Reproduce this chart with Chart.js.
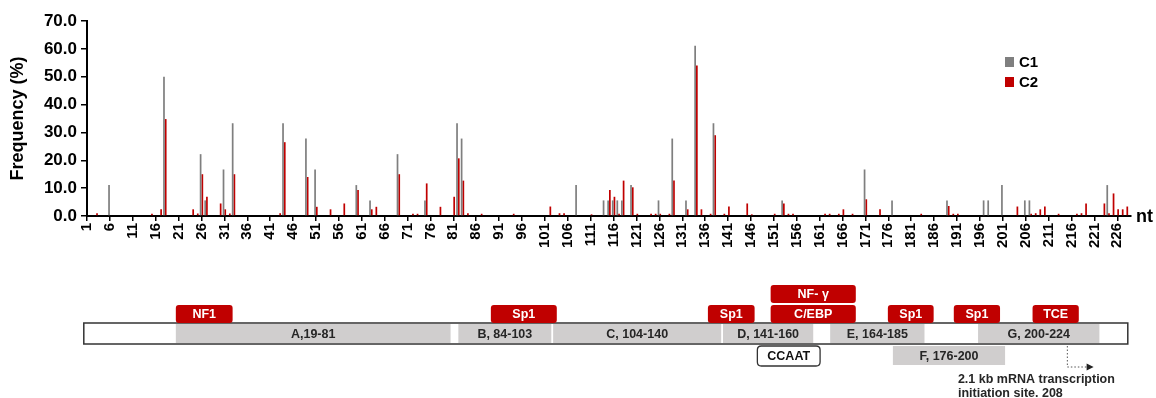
<!DOCTYPE html>
<html lang="en">
<head>
<meta charset="UTF-8">
<title>Frequency by nt</title>
<script src="https://cdn.jsdelivr.net/npm/chart.js"></script>
<style>
  html, body { margin: 0; padding: 0; background: #fff; }
  #wrap { width: 1156px; height: 398px; }
</style>
</head>
<body>
<div id="wrap"><canvas id="freqChart" width="1156" height="398"></canvas></div>
<script>
// nt range on the x axis
const ntFirst = 1;
const ntLast = 229;
const labelEvery = 5;

// C1 (grey) - positions and frequency (%)
const c1Sites = [6, 18, 26, 27, 31, 33, 44, 49, 51, 60, 63, 69, 75, 82, 83, 108, 114, 115, 116, 117, 118, 120,
  126, 129, 132, 134, 138, 153, 171, 177, 189, 197, 198, 201, 206, 207, 224];
const c1Freq = [11.1, 50.0, 22.2, 5.6, 16.7, 33.3, 33.3, 27.8, 16.7, 11.1, 5.6, 22.2, 5.6, 33.3, 27.8, 11.1, 5.6, 5.6, 5.6, 5.6, 5.6, 11.1,
  5.6, 27.8, 5.6, 61.1, 33.3, 5.6, 16.7, 5.6, 5.6, 5.6, 5.6, 11.1, 5.6, 5.6, 11.1];

// C2 (red) - positions and frequency (%)
const c2Sites = [3, 15, 17, 18, 24, 25, 26, 27, 30, 31, 32, 33, 43, 44, 49, 51, 54, 57, 60, 63, 64, 69, 72, 73, 75, 78,
  81, 82, 83, 84, 87, 94, 102, 104, 105, 111, 115, 116, 117, 118, 120, 121, 124, 125, 126, 128, 129, 132, 134, 135,
  137, 138, 140, 141, 145, 146, 151, 153, 154, 155, 162, 163, 165, 166, 168, 171, 174, 183, 189, 190, 191, 204, 207,
  208, 209, 210, 213, 217, 218, 219, 223, 224, 225, 226, 227, 228];
const c2Freq = [1.0, 0.8, 2.4, 34.8, 2.4, 0.9, 15.0, 6.9, 4.5, 2.4, 0.9, 15.0, 1.0, 26.5, 14.0, 3.3, 2.4, 4.5, 9.3, 2.4, 3.3, 15.0, 0.8, 0.8, 11.7, 3.3,
  6.9, 20.7, 12.7, 1.0, 0.8, 0.8, 3.4, 1.0, 1.0, 0.6, 9.3, 6.9, 0.8, 12.7, 10.3, 0.8, 0.8, 0.8, 0.8, 0.8, 12.7, 2.4, 54.0, 2.4,
  0.8, 29.0, 0.8, 3.4, 4.5, 0.6, 0.8, 4.5, 0.8, 0.8, 0.8, 0.8, 0.8, 2.4, 0.8, 6.0, 2.4, 0.8, 3.6, 0.8, 0.8, 3.4, 0.8,
  1.0, 2.4, 3.4, 0.8, 0.8, 1.0, 4.5, 4.5, 1.0, 8.1, 2.4, 2.4, 3.4];

const seriesNames = ['C1', 'C2'];
const seriesColors = ['#7f7f7f', '#c00000'];

// promoter map under the chart
const regionNames = ['A,19-81', 'B, 84-103', 'C, 104-140', 'D, 141-160', 'E, 164-185', 'G, 200-224', 'F, 176-200'];
const factorNames = ['NF1', 'Sp1', 'Sp1', 'C/EBP', 'NF- \u03b3', 'Sp1', 'Sp1', 'TCE'];
const tssText = ['2.1 kb mRNA transcription', 'initiation site. 208'];

const FONT = "'Liberation Sans', Arial, sans-serif";

const categories = [];
for (let n = ntFirst; n <= ntLast; n++) categories.push(String(n));
const valuesC1 = categories.map(() => null);
const valuesC2 = categories.map(() => null);
c1Sites.forEach((n, i) => { valuesC1[n - ntFirst] = c1Freq[i]; });
c2Sites.forEach((n, i) => { valuesC2[n - ntFirst] = c2Freq[i]; });

// layout of the map, in nt units: [from, to, row]
const mapLayout = {
  frame: [0.3, 228.3],
  regions: [[20.4, 80.4, 0], [82.1, 102.4, 0], [102.8, 139.5, 0], [139.9, 159.6, 0], [163.3, 183.9, 0], [195.6, 222.1, 0], [177.0, 201.5, 1]],
  factors: [[20.4, 32.8, 0], [89.2, 103.6, 0], [136.6, 146.8, 0], [150.3, 168.9, 0], [150.3, 168.9, 1], [175.9, 185.9, 0], [190.3, 200.4, 0], [207.5, 217.6, 0]],
  ccaat: [147.4, 161.1],
  tss: [215.1, 220.4],
  tssTextAt: 191.2
};

function roundRect(ctx, x, y, w, h, r) {
  ctx.beginPath();
  ctx.moveTo(x + r, y);
  ctx.lineTo(x + w - r, y);
  ctx.quadraticCurveTo(x + w, y, x + w, y + r);
  ctx.lineTo(x + w, y + h - r);
  ctx.quadraticCurveTo(x + w, y + h, x + w - r, y + h);
  ctx.lineTo(x + r, y + h);
  ctx.quadraticCurveTo(x, y + h, x, y + h - r);
  ctx.lineTo(x, y + r);
  ctx.quadraticCurveTo(x, y, x + r, y);
  ctx.closePath();
}

const extrasPlugin = {
  id: 'extras',
  afterDraw(chart) {
    const ctx = chart.ctx;
    const xs = chart.scales.x;
    const area = chart.chartArea;
    const px = nt => xs.getPixelForValue(nt - ntFirst);
    ctx.save();

    // legend
    ctx.font = 'bold 15px ' + FONT;
    ctx.textBaseline = 'middle';
    ctx.textAlign = 'left';
    seriesNames.forEach((name, i) => {
      const y = 62 + i * 20;
      ctx.fillStyle = seriesColors[i];
      ctx.fillRect(1005, y - 5, 9, 10);
      ctx.fillStyle = '#000';
      ctx.fillText(name, 1019, y + 1);
    });

    // "nt" axis label
    ctx.font = 'bold 18px ' + FONT;
    ctx.fillStyle = '#000';
    ctx.fillText('nt', area.right + 5, area.bottom + 1);

    // promoter map
    const boxTop = 323, boxH = 21;
    ctx.fillStyle = '#fff';
    ctx.strokeStyle = '#333';
    ctx.lineWidth = 1.5;
    const fx0 = px(mapLayout.frame[0]), fx1 = px(mapLayout.frame[1]);
    ctx.fillRect(fx0, boxTop, fx1 - fx0, boxH);
    ctx.strokeRect(fx0, boxTop, fx1 - fx0, boxH);

    ctx.font = 'bold 12.5px ' + FONT;
    ctx.textAlign = 'center';
    mapLayout.regions.forEach(([a, b, row], i) => {
      const x0 = px(a), x1 = px(b);
      const y0 = row === 0 ? boxTop + 1 : 346;
      const h = row === 0 ? boxH - 2 : 19;
      ctx.fillStyle = '#d0cece';
      ctx.fillRect(x0, y0, x1 - x0, h);
      ctx.fillStyle = '#262626';
      ctx.fillText(regionNames[i], (x0 + x1) / 2, y0 + h / 2 + 1);
    });

    mapLayout.factors.forEach(([a, b, row], i) => {
      const x0 = px(a), x1 = px(b);
      const y0 = row === 0 ? 305 : 285;
      roundRect(ctx, x0, y0, x1 - x0, 18, 3);
      ctx.fillStyle = '#c00000';
      ctx.fill();
      ctx.fillStyle = '#fff';
      ctx.fillText(factorNames[i], (x0 + x1) / 2, y0 + 10);
    });

    // CCAAT box
    const cx0 = px(mapLayout.ccaat[0]), cx1 = px(mapLayout.ccaat[1]);
    roundRect(ctx, cx0, 346, cx1 - cx0, 20, 4);
    ctx.fillStyle = '#fff';
    ctx.fill();
    ctx.lineWidth = 1.3;
    ctx.strokeStyle = '#333';
    ctx.stroke();
    ctx.fillStyle = '#111';
    ctx.fillText('CCAAT', (cx0 + cx1) / 2, 357);

    // transcription start arrow
    const ax = px(mapLayout.tss[0]), ax1 = px(mapLayout.tss[1]);
    const ay = 367;
    ctx.setLineDash([1.5, 2]);
    ctx.lineWidth = 1;
    ctx.strokeStyle = '#555';
    ctx.beginPath();
    ctx.moveTo(ax, 346);
    ctx.lineTo(ax, ay);
    ctx.lineTo(ax1 - 4, ay);
    ctx.stroke();
    ctx.setLineDash([]);
    ctx.fillStyle = '#222';
    ctx.beginPath();
    ctx.moveTo(ax1 + 2, ay);
    ctx.lineTo(ax1 - 5, ay - 3.5);
    ctx.lineTo(ax1 - 5, ay + 3.5);
    ctx.closePath();
    ctx.fill();

    ctx.textAlign = 'left';
    ctx.fillStyle = '#262626';
    const tx = px(mapLayout.tssTextAt);
    ctx.fillText(tssText[0], tx, 380);
    ctx.fillText(tssText[1], tx, 394);

    ctx.restore();
  }
};

new Chart(document.getElementById('freqChart'), {
  type: 'bar',
  data: {
    labels: categories,
    datasets: [
      { label: seriesNames[0], data: valuesC1, backgroundColor: seriesColors[0], borderWidth: 0 },
      { label: seriesNames[1], data: valuesC2, backgroundColor: seriesColors[1], borderWidth: 0 }
    ]
  },
  options: {
    responsive: false,
    animation: false,
    devicePixelRatio: 1,
    layout: { padding: { left: 0, top: 21, right: 25, bottom: 0 } },
    datasets: { bar: { categoryPercentage: 0.75, barPercentage: 1.0, clip: false } },
    plugins: {
      legend: { display: false },
      tooltip: { enabled: false }
    },
    scales: {
      x: {
        offset: false,
        afterFit: s => { s.height = 182; },
        grid: {
          offset: false,
          drawOnChartArea: false,
          tickLength: 5,
          lineWidth: 1.5,
          color: c => ((c.index % labelEvery) === 0 ? '#000' : 'rgba(0,0,0,0)')
        },
        border: { display: true, color: '#000', width: 2 },
        ticks: {
          autoSkip: false,
          maxRotation: 90,
          minRotation: 90,
          padding: 2,
          color: '#000',
          font: { family: FONT, size: 15, weight: 'bold' },
          callback: (v, i) => ((i % labelEvery) === 0 ? categories[i] : '')
        }
      },
      y: {
        min: 0,
        max: 70,
        afterFit: s => { s.width = 87; },
        grid: { drawOnChartArea: false, tickLength: 6, color: '#000', lineWidth: 1.5 },
        border: { display: true, color: '#000', width: 2 },
        ticks: {
          stepSize: 10,
          padding: 4,
          color: '#000',
          font: { family: FONT, size: 17, weight: 'bold' },
          callback: v => Number(v).toFixed(1)
        },
        title: {
          display: true,
          text: 'Frequency (%)',
          color: '#000',
          font: { family: FONT, size: 18, weight: 'bold' },
          padding: { top: 7, bottom: 0 }
        }
      }
    }
  },
  plugins: [extrasPlugin]
});
</script>
</body>
</html>
